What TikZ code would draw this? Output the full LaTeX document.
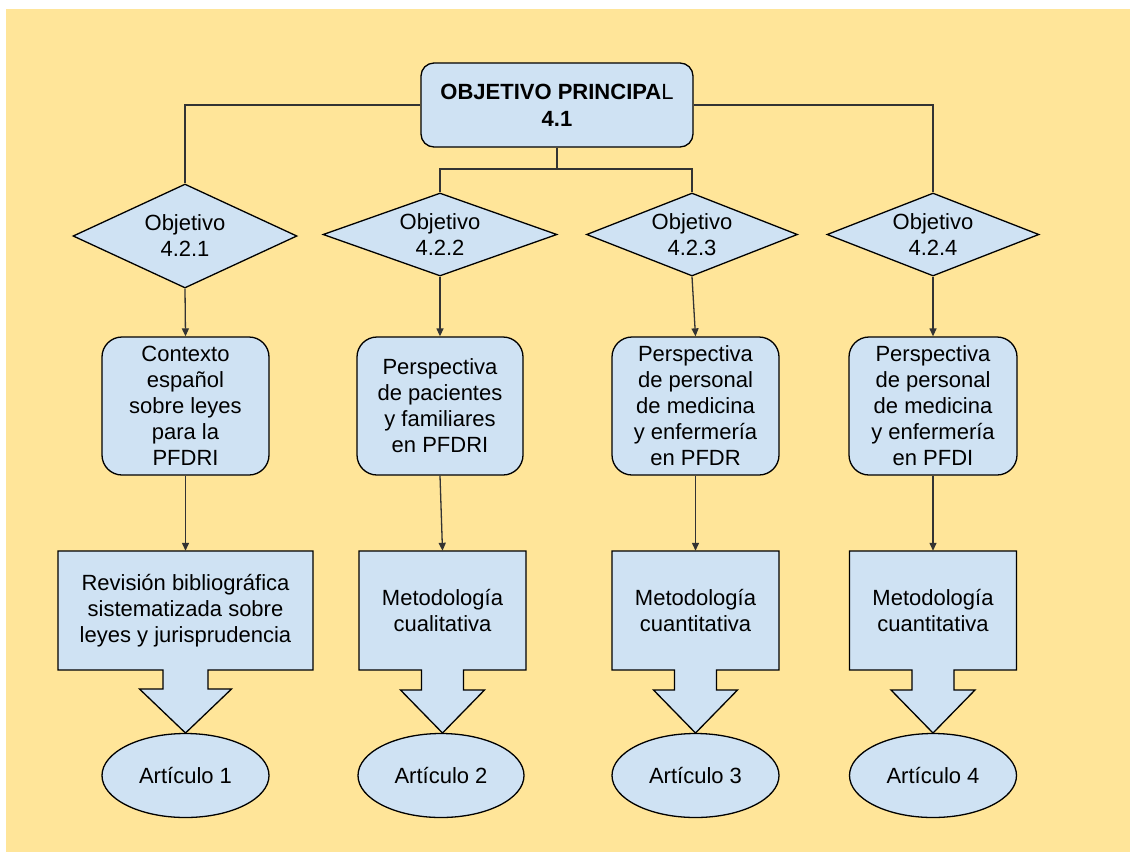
\documentclass[tikz,border=0pt]{standalone}
\usepackage{fontspec}
\setmainfont{Liberation Sans}
\usetikzlibrary{shapes.geometric,arrows.meta}
\definecolor{bgyellow}{HTML}{FFE599}
\definecolor{boxblue}{HTML}{CFE2F3}
\definecolor{linegray}{HTML}{333333}
\tikzset{
  base/.style={draw=black,fill=boxblue,line width=1.3pt,align=center,inner sep=0pt},
  topbox/.style={base,rectangle,rounded corners=13pt,minimum width=272,minimum height=84},
  objdiam/.style={base,diamond,aspect=2},
  roundbox/.style={base,rectangle,rounded corners=20pt,minimum width=167,minimum height=138},
  ctext/.style={rectangle,align=center,inner sep=0pt,minimum height=119},
  cshape/.style={draw=black,fill=boxblue,line width=1.3pt,line join=miter},
  artic/.style={base,ellipse,minimum width=167,minimum height=84},
  conn/.style={draw=linegray,line width=1.3pt},
  arr/.style={conn,-{Triangle[length=8pt,width=7pt]}}
}
\newcommand\calloutpath[7]{% cx, top, halfw, rectbottom, shafthalf, shaftbottom, headhalf
  \draw[cshape] ({#1-#3},#2) -- ({#1+#3},#2) -- ({#1+#3},#4) -- ({#1+#5},#4) -- ({#1+#5},#6)
    -- ({#1+#7},#6) -- (#1,733) -- ({#1-#7},#6) -- ({#1-#5},#6) -- ({#1-#5},#4)
    -- ({#1-#3},#4) -- cycle;}
\begin{document}
\begin{tikzpicture}[x=1pt,y=-1pt,font=\fontsize{22}{26}\selectfont]
\useasboundingbox (0,0) rectangle (1130,852);
\fill[bgyellow] (6,9) rectangle (1130,852);

% top
\node[topbox] (T) at (557,105) {\textbf{OBJETIVO PRINCIPA}L\\[1pt]\textbf{4.1}};

% diamonds
\node[objdiam,minimum width=224,minimum height=104] (D1) at (185,236) {Objetivo\\4.2.1};
\node[objdiam,minimum width=234,minimum height=83] (D2) at (440,234.5) {Objetivo\\4.2.2};
\node[objdiam,minimum width=211,minimum height=83] (D3) at (692,234.5) {Objetivo\\4.2.3};
\node[objdiam,minimum width=212,minimum height=83] (D4) at (933,234.5) {Objetivo\\4.2.4};

% rounded boxes
\node[roundbox] (B1) at (185.5,406) {Contexto\\español\\sobre leyes\\para la\\PFDRI};
\node[roundbox,minimum width=166] (B2) at (440,406) {Perspectiva\\de pacientes\\y familiares\\en PFDRI};
\node[roundbox] (B3) at (695.5,406) {Perspectiva\\de personal\\de medicina\\y enfermería\\en PFDR};
\node[roundbox,minimum width=168] (B4) at (933,406) {Perspectiva\\de personal\\de medicina\\y enfermería\\en PFDI};

% callouts
\calloutpath{185.5}{551}{127.5}{670}{22.5}{689}{46}
\calloutpath{442.5}{551}{83.5}{670}{21}{690}{42}
\calloutpath{695.5}{551}{83.5}{670}{21}{690}{42}
\calloutpath{933}{551}{83.5}{670}{21}{690}{42}
\node[ctext,minimum width=255] (C1) at (185.5,610.5) {Revisión bibliográfica\\sistematizada sobre\\leyes y jurisprudencia};
\node[ctext,minimum width=167] (C2) at (442.5,610.5) {Metodología\\cualitativa};
\node[ctext,minimum width=167] (C3) at (695.5,610.5) {Metodología\\cuantitativa};
\node[ctext,minimum width=167] (C4) at (933,610.5) {Metodología\\cuantitativa};

% articles
\node[artic] (E1) at (185.5,775.5) {Artículo 1};
\node[artic,minimum width=166] (E2) at (441,775.5) {Artículo 2};
\node[artic] (E3) at (695.5,775.5) {Artículo 3};
\node[artic] (E4) at (933,775.5) {Artículo 4};

% connectors from top
\coordinate (bus) at (557,169);
\draw[conn] (T.west) -| (D1.north);
\draw[conn] (T.east) -| (D4.north);
\draw[conn] (T.south) -- (bus);
\draw[conn] (D2.north) |- (bus) -| (D3.north);

% arrows
\foreach \i in {1,2,3,4}{
  \draw[arr] (D\i.south) -- (B\i.north);
  \draw[arr] (B\i.south) -- (C\i.north);
}
\end{tikzpicture}
\end{document}
